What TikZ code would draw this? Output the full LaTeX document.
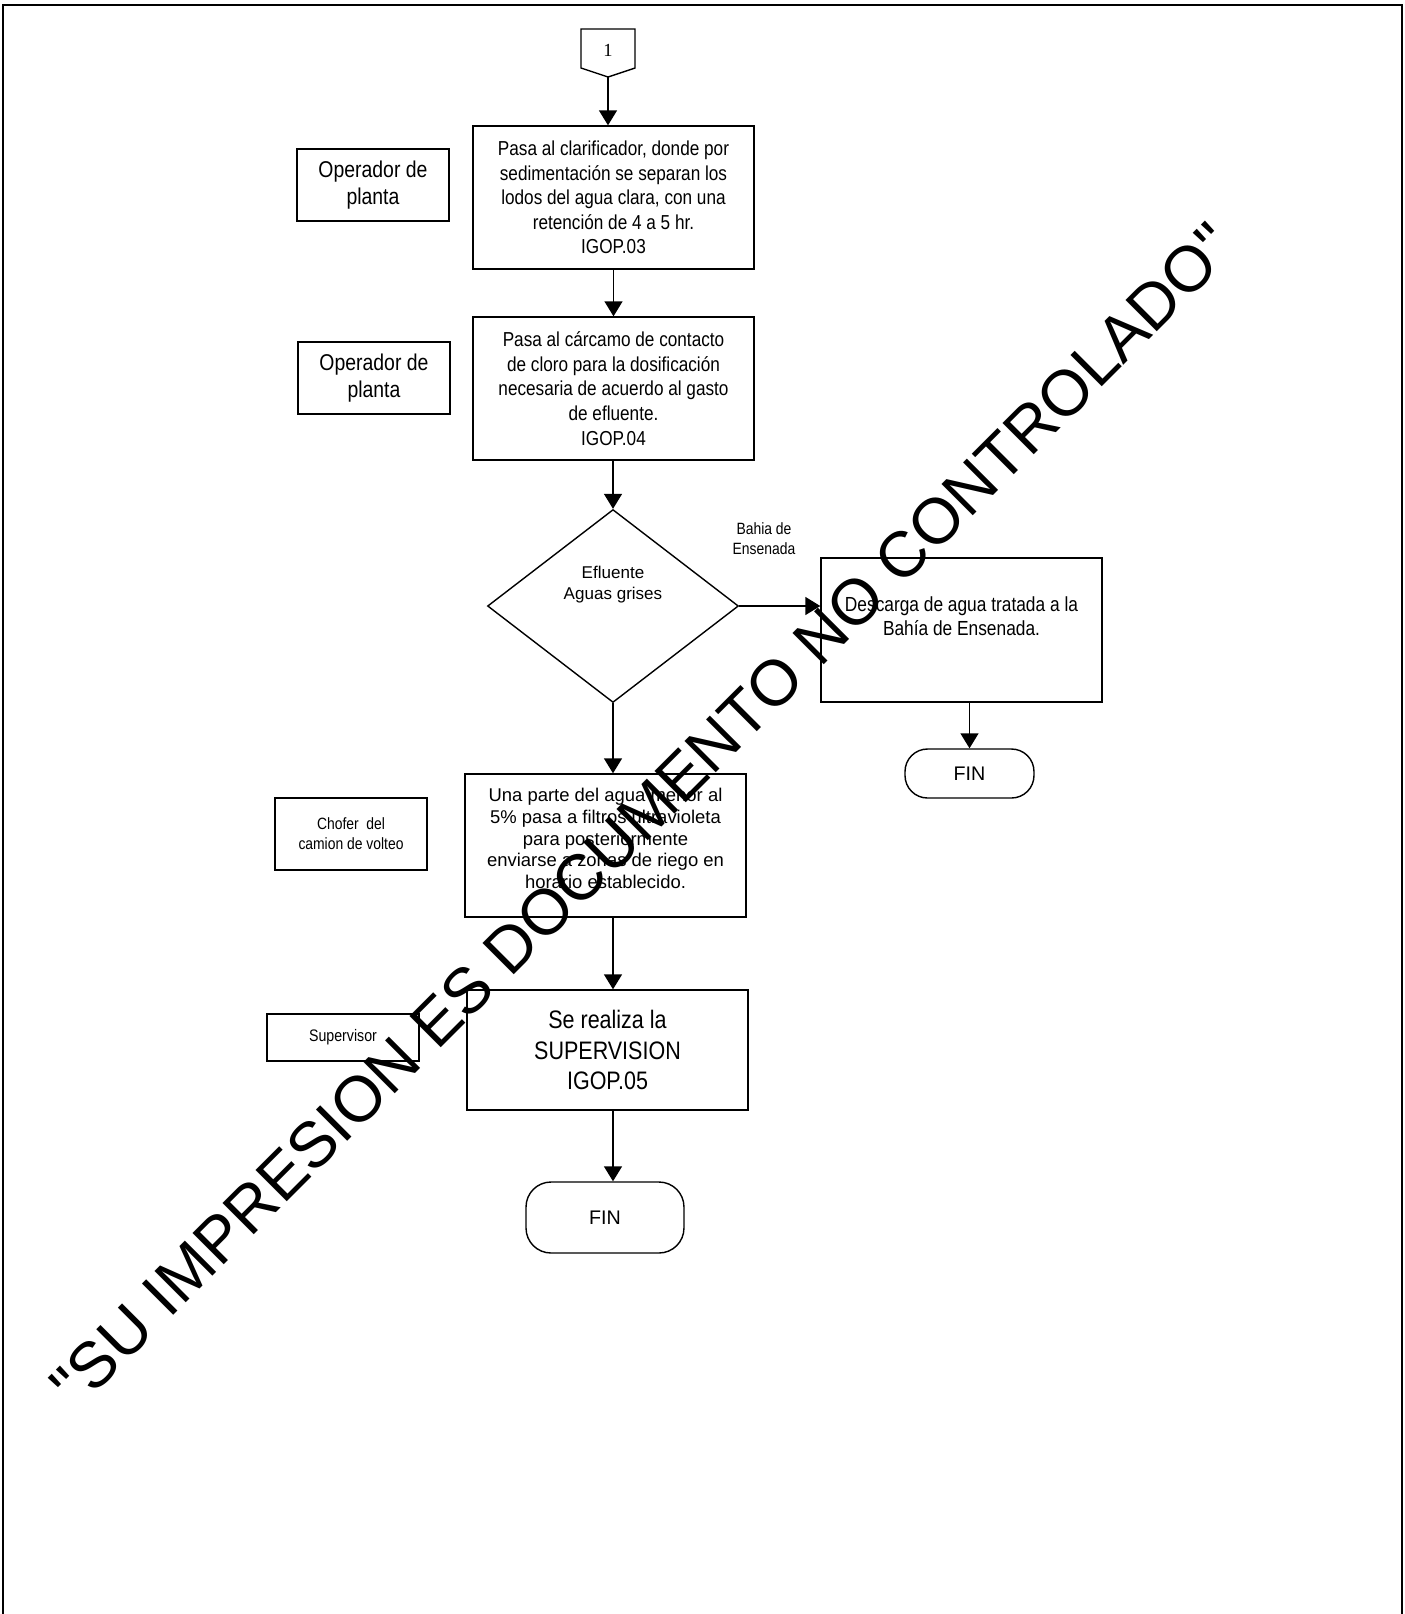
\documentclass[tikz,border=0pt]{standalone}
\usepackage{fontspec}
\setmainfont{Liberation Sans}
\newfontfamily\narrowfont[FakeStretch=0.85]{Liberation Sans}
\newfontfamily\serifone{Liberation Serif}
\usetikzlibrary{arrows.meta,shapes.geometric}

\tikzset{
  >={Triangle[length=3mm,width=3.6mm]},
  caja/.style={draw,rectangle,minimum width=5.62cm,minimum height=2.86cm,align=center,inner sep=0pt},
  rol/.style={draw,rectangle,minimum width=3.04cm,minimum height=1.44cm,align=center,inner sep=0pt},
  fin/.style={draw,rounded corners=0.45cm,inner sep=0pt,font=\fontsize{11.2}{13}\selectfont},
  angosta/.style={font=\narrowfont\fontsize{11.5}{14}\selectfont},
}

\begin{document}
\begin{tikzpicture}[x=0.02cm,y=-0.02cm,line width=0.8pt]
   \useasboundingbox (0,0) rectangle (1405,1614);
   % marco de la hoja
   \draw[line width=1.4pt] (3,1614) -- (3,5) -- (1402,5) -- (1402,1614);
   % conector de pagina
   \draw (581,29) -- (635,29) -- (635,68) -- (608,77) -- (581,68) -- cycle;
   \node[font=\serifone\fontsize{10.5}{12}\selectfont] (uno) at (608,50) {1};
   \coordinate (unopunta) at (608,77);

   \node[caja,angosta] (b1) at (613.5,197.5) {Pasa al clarificador, donde por\\ sedimentación se separan los\\ lodos del agua clara, con una\\ retención de 4 a 5 hr.\\ IGOP.03};
   \node[caja,angosta] (b2) at (613.5,388.5) {Pasa al cárcamo de contacto\\ de cloro para la dosificación\\ necesaria de acuerdo al gasto\\ de efluente.\\ IGOP.04};
   \node[rol,font=\narrowfont\fontsize{13}{15.1}\selectfont] (op1) at (373,185) {Operador de\\ planta};
   \node[rol,font=\narrowfont\fontsize{13}{15.1}\selectfont] (op2) at (374,378) {Operador de\\ planta};

   \node[draw,diamond,minimum width=5.02cm,minimum height=3.86cm,inner sep=0pt] (dia) at (613,606) {};
   \node[align=center,font=\fontsize{9.7}{11.7}\selectfont] (diatxt) at (613,584.5) {Efluente\\ Aguas grises};
   \node[align=center,font=\narrowfont\fontsize{9.3}{11.3}\selectfont] (bahia) at (764,539) {Bahia de\\ Ensenada};

   \node[caja,minimum height=2.88cm] (desc) at (961.5,630) {};
   \node[align=center,font=\narrowfont\fontsize{11.6}{13.6}\selectfont] (desctxt) at (961.5,616) {Descarga de agua tratada a la\\ Bahía de Ensenada.};
   \node[fin,minimum width=2.58cm,minimum height=0.98cm] (fin2) at (969.5,773.5) {FIN};

   \node[caja] (b3) at (605.5,845.5) {};
   \node[align=center,font=\fontsize{10.5}{12.3}\selectfont] (b3txt) at (605.5,838.5) {Una parte del agua menor al\\ 5\% pasa a filtros ultravioleta\\ para posteriormente\\ enviarse a zonas de riego en\\ horario establecido.};
   \node[rol,font=\narrowfont\fontsize{9.3}{11.3}\selectfont] (chofer) at (351,834) {Chofer~ del\\ camion de volteo};

   \node[caja,minimum height=2.4cm,font=\narrowfont\fontsize{14.4}{17.5}\selectfont] (b4) at (607.5,1050) {Se realiza la\\ SUPERVISION\\ IGOP.05};
   \node[rol,minimum height=0.94cm,font=\narrowfont\fontsize{9.5}{11.5}\selectfont] (sup) at (343,1037.5) {Supervisor};
   \node[fin,minimum width=3.16cm,minimum height=1.42cm,rounded corners=0.5cm] (fin1) at (605,1217.5) {FIN};

   % flechas
   \draw[->] (unopunta) -- (unopunta |- b1.north);
   \draw[->] (b1.south) -- (b2.north);
   \draw[->] (b2.south -| dia.north) -- (dia.north);
   \draw[->] (dia.east) -- (dia.east -| desc.west);
   \draw[->] (fin2.north |- desc.south) -- (fin2.north);
   \draw[->] (dia.south) -- (dia.south |- b3.north);
   \draw[->] (b3.south -| dia.south) -- (b4.north -| dia.south);
   \draw[->] (b4.south -| dia.south) -- (fin1.north -| dia.south);

   % marca de agua
   \node[rotate=45,anchor=base,inner sep=0pt,font=\fontsize{36.6}{40}\selectfont] (marca) at (658,831) {\textquotedbl SU IMPRESION ES DOCUMENTO NO CONTROLADO\textquotedbl};
\end{tikzpicture}
\end{document}
